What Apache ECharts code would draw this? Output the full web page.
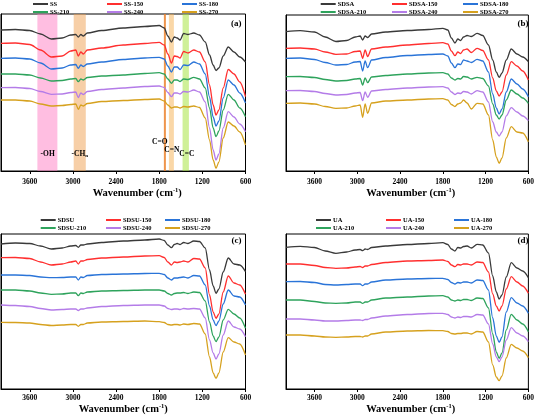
<!DOCTYPE html>
<html><head><meta charset="utf-8">
<script src="https://cdn.jsdelivr.net/npm/echarts@6/dist/echarts.min.js"></script>
<style>html,body{margin:0;padding:0;background:#fff}#c{width:537px;height:416px}</style>
</head><body><div id="c"></div>
<script>
// ---------- data ----------
const wavenumbers = [4000,3800,3600,3450,3300,3150,3030,2960,2925,2890,2855,2800,2600,2300,2000,1800,1730,1680,1630,1590,1550,1510,1460,1400,1320,1240,1160,1100,1050,1010,970,910,840,760,680,600];
const xTickLabels = ['600','1200','1800','2400','3000','3600'];

const namesA = ['SS','SS-150','SS-180','SS-210','SS-240','SS-270'];
const namesB = ['SDSA','SDSA-150','SDSA-180','SDSA-210','SDSA-240','SDSA-270'];
const namesC = ['SDSU','SDSU-150','SDSU-180','SDSU-210','SDSU-240','SDSU-270'];
const namesD = ['UA','UA-150','UA-180','UA-210','UA-240','UA-270'];

const ss    = [141,141.5,140.5,137,132,133,136,136.5,134,136.5,135,138,140.5,143,144.5,145.5,143,135,129,134,133,131,137.5,136.5,138,136,129,116,106,100.5,103,115,124,119,114,109];
const ss150 = [127.7,128,126.5,121,114,115,120,121,115,119,117,121,123,126,127.5,128.7,126,117,108,115,114.5,113,119.5,118,121,119,109,86,66,56,61,83,101.5,97,89,74.3];
const ss180 = [112.7,113,112,108,102,103,106,106.5,102.7,106,104.5,107,109,111.5,113,113.7,112,105,99,104,104,101.5,106,105.5,109,107,97,74,54,45,50,73,91,86,78,68];
const ss210 = [97,97,96,93,90,90.5,92,92.5,89.3,92,91,93.5,95,96,97.5,98.3,97,92,87.7,91,91,89.5,92,91.5,93.7,92,83,63,43,34.3,40,61,76.7,71,63,54.3];
const ss240 = [83.3,83.5,82.5,79.5,76.7,77,78.5,79,73.3,78,76.5,79.5,81.5,83,84.5,85,83.5,78.5,74.3,78,78,77,79.5,79,81,79,69,43,21,11,17,43,59.3,54,47,39.3];
const ss270 = [71,71,70,67,65,65.5,66.5,67,61.7,66,65,67.5,69.5,70.5,71.5,72,70,66,63,64,64,63,64.5,64,65,63.5,53,31,11,2.7,9,33,49,45,39,26];

const sdsa    = [139.3,140.3,139,134,129.5,130.5,134,135,131,135,133.5,137,139,140.5,141.5,142.7,141,133,128,132,130.5,134,135.5,134.5,137.7,135.5,126,111,99,93.7,98,111,122,117,114,109.3];
const sdsa150 = [122.7,123,122,119,116.7,117,119.5,120,112.7,121,114.5,122,124,126,127.5,128.3,127,120,115.3,119,117.5,121,122,118.5,122.7,120.5,111,93,80,75,79,96,109.3,105,100,91];
const sdsa180 = [112.7,113,111.5,108.5,106,106.5,109,109.5,100,110,103.3,111,113.5,115.5,116.5,117,115,108,103.3,107,106.5,111,110,108.5,111.7,110,99,77,63,57,62,79,92,87,82,74.3];
const sdsa210 = [94.3,94.5,93.5,91.5,90,90.5,92,92.5,86,93,88.3,94,95.5,97,98,98.3,97,93,91,92.5,92,94.5,94,92,93.7,92.5,85,67,56,52,56,71,81,77,73,67.7];
const sdsa240 = [80.3,80.5,79.5,77.5,76,76.5,78,78.5,70.3,79,73.7,80,81.5,83,84,84.3,83,79,76.5,78,77.5,79.5,79,77,80.3,79,69,49,39,35,39,55,63.3,59,55,50.3];
const sdsa270 = [67.7,68,67,64.5,62.7,63,65,66,53.7,67,57.7,68,70,71,72,72.3,71,66.5,64.5,67,68,71,68,62,67.7,67,56,31,14,7.7,13,33,44.3,39,38,29.3];

const sdsu    = [145,146,145.5,143,140,141,143,143.5,141.7,144,144,145,146.5,148,149,150,148.5,144,141.3,144.5,145.5,144.5,146.5,145.5,148,147.5,141,119,103,95.7,100,117,131,125,124,117.3];
const sdsu150 = [131.3,131.5,130.5,127,124,125,127,128,125,128,128,129.5,131,132,133,133.3,131.5,127,124,127,126.5,127,128,127,130.5,130,121,94,77,70.7,75,97,113,106,104,94.7];
const sdsu180 = [114,114,113.5,112,111.3,111.5,112,112,109,112,111.5,113.5,114.5,115,115.5,115.7,114.5,111,109,111,111,111.5,112,111,113.5,113,104,83,69,63.3,68,85,99,93,92,84];
const sdsu210 = [99,99,98,96,94.7,95,96,96,93.3,96,95.5,97,98,98.5,99,99,98,95.5,94,95.5,96,96,96.5,95.5,97,96.5,88,67,53,47.3,52,69,79.7,75,71,60.7];
const sdsu240 = [84,83.5,82.5,80.5,79,79.5,80,80,78.5,80,80,81,82.5,83.5,84,84,83,80.5,79.5,80,80,79.5,80.5,80,80.5,80,71,49,36,30,35,54,68,62,60,52.3];
const sdsu270 = [66.7,66.5,66,64.5,63.5,64,64.5,64.5,62.7,64.5,64.5,66,67,67.5,68,67.3,66.5,64.5,64,64.5,64.5,64,65,64.5,65.5,65,55,32,16,10.7,16,37,51.3,47,45,34];

const ua    = [141.7,142.7,141.5,138,135.7,137,139,139.5,138.3,140,139.5,141.5,143,144.5,145.5,146.3,144.5,140,138,141.5,141,142.5,143,141,144.7,144,136,113,97,90,94,112,126.3,121,118,111.3];
const ua150 = [125,125,123.5,121.5,120.7,121,122,122.5,121.5,123,123,124.5,126.5,128,128.5,129,127.5,124,122.3,124.5,124,125,125,124,127,126.5,117,95,83,78,83,100,112.3,107,103,95.7];
const ua180 = [107.3,107.5,106.5,104.5,104,104.5,105,105,103.3,105,105,107,109,110,110.5,110.7,109.5,106.5,105,106.5,106,107,107,106,109,108.5,99,71,53,46.7,52,77,91.3,86,83,75.7];
const ua210 = [89,89,87.5,86,85.7,86,87,87,85.7,87,87,89,91,92,93,93.3,92,89,88,89,88.5,89.5,89.5,88.5,91,90.5,81,55,37,30.7,36,59,74.7,69,65,57.3];
const ua240 = [70,70,69,68,68,68.5,69,69,68.5,69.5,69.5,71,73,74.5,75.5,75.7,74.5,72,71,72,71.5,72.5,72.5,72,74.5,74,65,45,32,27.3,32,49,61.3,56,53,47.3];
const ua270 = [54,54,53,52,51.7,52,52.5,52.5,52,53,53,55,57,58,58.5,58.3,57.5,55.5,55,55.5,55.5,56,56,55,57.5,57,47,24,12,8.3,13,31,44.7,41,38,31.3];

// band ranges (cm-1) in panel (a)
const bandRanges = [[3494,3216],[2989,2821],[1735,1707],[1665,1596],[1475,1387]];
const bandLabels = ['-OH','-CH{sub|n}','C=O','C=N','C=C'];
const bandLabelPos = [[3351,17],[2905,17],[1791,29],[1624,21],[1415,17]];
const panelTags = ['(a)','(b)','(c)','(d)'];

// ---------- styles / layout ----------
const colors = ['#3a3a3a','#ff2f2f','#2a74d8','#2ea35c','#b47ce8','#d6a11e'];
const bandColors = ['rgba(255,125,195,0.5)','rgba(240,160,80,0.5)','rgba(235,130,45,0.85)','rgba(245,175,80,0.5)','rgba(160,225,50,0.5)'];
const FONT = 'Liberation Serif';

const panels = [
  {names: namesA, values: [ss,ss150,ss180,ss210,ss240,ss270], left:1, top:14, width:244.5, height:157, legendLefts:[33,107,182], legendTop:0, tagLeft:231, tagTop:19, labelMargin:7, nameGap:15, namePad:28},
  {names: namesB, values: [sdsa,sdsa150,sdsa180,sdsa210,sdsa240,sdsa270], left:286, top:15, width:245, height:156, legendLefts:[320.7,392,463], legendTop:0, tagLeft:517.5, tagTop:19, labelMargin:7, nameGap:15, namePad:7},
  {names: namesC, values: [sdsu,sdsu150,sdsu180,sdsu210,sdsu240,sdsu270], left:1, top:234, width:244.5, height:155, legendLefts:[40.7,106,165], legendTop:216, tagLeft:231.5, tagTop:236, labelMargin:5, nameGap:12, namePad:0},
  {names: namesD, values: [ua,ua150,ua180,ua210,ua240,ua270], left:286, top:234, width:245, height:155, legendLefts:[316,386,454], legendTop:216, tagLeft:517.5, tagTop:236, labelMargin:5, nameGap:12, namePad:7}
];

const grid = [], xAxis = [], yAxis = [], series = [], legend = [], title = [];
panels.forEach((p, i) => {
  grid.push({left:p.left, top:p.top, width:p.width, height:p.height, show:true, borderColor:'#000', borderWidth:1, backgroundColor:'transparent'});
  xAxis.push({
    gridIndex:i, type:'value', inverse:true, min:600, max:4000, interval:600,
    axisLine:{onZero:false, lineStyle:{color:'#000', width:1}},
    axisTick:{show:true, length:3, inside:false, lineStyle:{color:'#000'}},
    axisLabel:{color:'#000', fontFamily:FONT, fontWeight:'bold', fontSize:7.5, margin:p.labelMargin,
      showMaxLabel:false, showMinLabel:true,
      formatter: v => (xTickLabels.indexOf(String(v)) >= 0 ? String(v) : '')},
    splitLine:{show:false},
    name:'Wavenumber (cm{sup|-1})', nameLocation:'middle', nameGap:p.nameGap,
    nameTextStyle:{color:'#000', fontFamily:FONT, fontWeight:'bold', fontSize:10.5, padding:[0,0,0,p.namePad],
      rich:{sup:{fontSize:6.5, fontFamily:FONT, fontWeight:'bold', color:'#000', verticalAlign:'top', padding:[0,0,5,0]}}}
  });
  yAxis.push({gridIndex:i, type:'value', min:0, max:p.height, axisLine:{show:true, lineStyle:{color:'#000'}},
    axisTick:{show:false}, axisLabel:{show:false}, splitLine:{show:false}});
  p.names.forEach((n, k) => {
    series.push({
      name:n, type:'line', xAxisIndex:i, yAxisIndex:i, showSymbol:false, symbol:'none',
      smooth:0.3, smoothMonotone:'x', z:2,
      lineStyle:{color:colors[k], width:1.3}, itemStyle:{color:colors[k]},
      data: wavenumbers.map((w, j) => [w, p.values[k][j]])
    });
  });
  for (let c = 0; c < 3; c++) {
    legend.push({
      data:[p.names[c], p.names[c+3]], orient:'vertical', left:p.legendLefts[c], top:p.legendTop,
      icon:'rect', itemWidth:15, itemHeight:2, itemGap:0, selectedMode:false, padding:0,
      textStyle:{color:'#000', fontFamily:FONT, fontWeight:'bold', fontSize:6.5, lineHeight:8, padding:[0,0,0,-3]}
    });
  }
  title.push({text:panelTags[i], left:p.tagLeft, top:p.tagTop, padding:0,
    textStyle:{color:'#000', fontFamily:FONT, fontWeight:'bold', fontSize:9}});
});

// band overlay + labels on panel (a)
series.push({
  name:'bands', type:'line', xAxisIndex:0, yAxisIndex:0, data:[], z:10, silent:true,
  markArea:{silent:true, data: bandRanges.map((r, k) => [
    {xAxis:r[0], itemStyle:{color:bandColors[k]}}, {xAxis:r[1]}
  ])},
  markPoint:{silent:true, symbol:'circle', symbolSize:1, itemStyle:{color:'rgba(0,0,0,0)'},
    data: bandLabels.map((t, k) => ({name:t, coord:bandLabelPos[k]})),
    label:{show:true, position:'inside', formatter:'{b}', color:'#000', fontFamily:FONT, fontWeight:'bold', fontSize:7.5,
      rich:{sub:{fontSize:5, fontFamily:FONT, fontWeight:'bold', color:'#000', verticalAlign:'bottom', padding:[4,0,0,0]}}}
  }
});

const chart = echarts.init(document.getElementById('c'), null, {renderer:'canvas'});
chart.setOption({animation:false, backgroundColor:'#fff', title, legend, grid, xAxis, yAxis, series});
</script></body></html>
